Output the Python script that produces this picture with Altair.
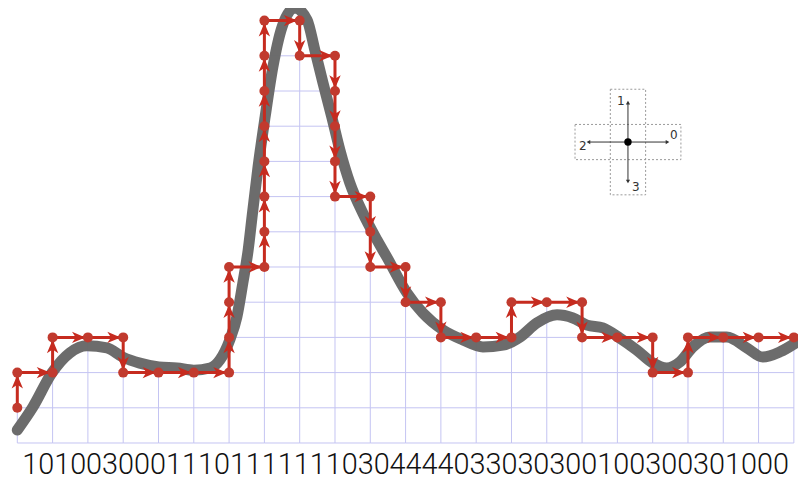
import altair as alt
import pandas as pd

# ---- data ----
path_x = [0, 0, 1, 1, 2, 3, 3, 4, 5, 6, 6, 6, 6, 7, 7, 7, 7, 7, 7, 7, 7, 8, 8, 9, 9, 9, 9, 9,
          10, 10, 10, 11, 11, 12, 12, 13, 14, 14, 15, 16, 16, 17, 18, 18, 19, 19, 20, 21, 22]
path_y = [1, 2, 2, 3, 3, 3, 2, 2, 2, 2, 3, 4, 5, 5, 6, 7, 8, 9, 10, 11, 12, 12, 11, 11, 10, 9, 8, 7,
          7, 6, 5, 5, 4, 4, 3, 3, 3, 4, 4, 4, 3, 3, 3, 2, 2, 3, 3, 3, 3]

curve_x = [0.0, 0.44, 0.98, 1.49, 1.97, 2.54, 2.99, 3.47, 4.01, 4.52, 5.00, 5.46, 5.74, 6.02,
           6.22, 6.39, 6.54, 6.65, 6.82, 7.02, 7.24, 7.50, 7.86, 8.21, 8.43, 8.66, 8.91, 9.14,
           9.42, 9.79, 10.19, 10.47, 11.04, 11.49, 12.06, 12.62, 13.19, 13.76, 14.24, 14.72,
           15.29, 15.74, 16.14, 16.59, 17.07, 17.55, 18.01, 18.40, 18.77, 19.14, 19.62, 20.10,
           20.67, 21.12, 21.61, 22.09]
curve_y = [0.37, 1.02, 1.99, 2.56, 2.76, 2.70, 2.44, 2.27, 2.16, 2.13, 2.07, 2.13, 2.36, 2.93,
           3.58, 4.55, 5.48, 6.42, 7.84, 9.26, 10.68, 11.82, 12.36, 12.02, 11.16, 10.23, 9.26,
           8.32, 7.39, 6.53, 5.77, 5.28, 4.26, 3.69, 3.21, 2.93, 2.73, 2.78, 3.01, 3.41, 3.64,
           3.55, 3.35, 3.27, 2.98, 2.64, 2.27, 2.13, 2.30, 2.73, 3.01, 3.01, 2.70, 2.44, 2.59,
           2.87]

code_text = "101003000111011111110304444033030300100300301000"

dir_labels = ["0", "1", "2", "3"]
dir_dx = [1, 0, -1, 0]
dir_dy = [0, 1, 0, -1]

# ---- scales ----
X_DOMAIN = [-0.2635, 22.117]
Y_DOMAIN = [-1.108, 12.358]
xs = alt.Scale(domain=X_DOMAIN, nice=False, zero=False)
ys = alt.Scale(domain=Y_DOMAIN, nice=False, zero=False)

RED = "#c62b1f"
DOT = "#c13a2e"
GRID = "#c4c4f2"

# column heights under the step path
ncol = max(path_x)
h = [0] * ncol
for i in range(len(path_x) - 1):
    if path_y[i] == path_y[i + 1] and path_x[i + 1] == path_x[i] + 1:
        h[path_x[i]] = path_y[i]

grid_rows = []
for i in range(ncol + 1):
    top = max(h[i - 1] if i > 0 else 0, h[i] if i < ncol else 0)
    grid_rows.append({"x": i, "x2": i, "y": 0, "y2": top})
for i in range(ncol):
    for k in range(h[i] + 1):
        grid_rows.append({"x": i, "x2": i + 1, "y": k, "y2": k})
grid_df = pd.DataFrame(grid_rows)

path_df = pd.DataFrame({"x": path_x, "y": path_y, "i": list(range(len(path_x)))})
curve_df = pd.DataFrame({"x": curve_x, "y": curve_y, "i": list(range(len(curve_x)))})

arrow_rows = []
for i in range(len(path_x) - 1):
    x0, y0, x1, y1 = path_x[i], path_y[i], path_x[i + 1], path_y[i + 1]
    dx, dy = x1 - x0, y1 - y0
    ang = 0 if dx > 0 else 180 if dx < 0 else 270 if dy > 0 else 90
    f = 0.74
    arrow_rows.append({"x": x0 + f * dx, "y": y0 + f * dy, "a": ang})
arrow_df = pd.DataFrame(arrow_rows)

ARROW = "M1,0 L-1,-0.85 L-0.45,0 L-1,0.85 Z"

enc_x = lambda f="x": alt.X(f"{f}:Q", scale=xs, axis=None)
enc_y = lambda f="y": alt.Y(f"{f}:Q", scale=ys, axis=None)

grid = alt.Chart(grid_df).mark_rule(color=GRID, strokeWidth=1).encode(
    x=enc_x(), x2="x2:Q", y=enc_y(), y2="y2:Q")

curve = alt.Chart(curve_df).mark_line(
    interpolate="monotone", color="#676767", strokeWidth=11, strokeCap="round", opacity=0.97
).encode(x=enc_x(), y=enc_y(), order="i:Q")

path = alt.Chart(path_df).mark_line(color=RED, strokeWidth=3).encode(
    x=enc_x(), y=enc_y(), order="i:Q")

dots = alt.Chart(path_df).mark_point(
    shape="circle", filled=True, size=100, color=DOT, opacity=1).encode(x=enc_x(), y=enc_y())

arrows = alt.Chart(arrow_df).mark_point(
    shape=ARROW, filled=True, size=180, color=RED, opacity=1).encode(
    x=enc_x(), y=enc_y(), angle=alt.Angle("a:Q", scale=None))

# ---- inset direction diagram (data units) ----
cx, cy = 17.3, 8.55
rect_df = pd.DataFrame({
    "x": [cx - 1.5, cx - 0.5], "x2": [cx + 1.5, cx + 0.5],
    "y": [cy - 0.5, cy - 1.5], "y2": [cy + 0.5, cy + 1.5]})
rects = alt.Chart(rect_df).mark_rect(
    fillOpacity=0, stroke="#9a9a9a", strokeWidth=1, strokeDash=[2, 2]).encode(
    x=enc_x(), x2="x2:Q", y=enc_y(), y2="y2:Q")

L = 1.12
ins_df = pd.DataFrame({
    "x": [cx] * 4, "y": [cy] * 4,
    "x2": [cx + L * d for d in dir_dx], "y2": [cy + L * d for d in dir_dy],
    "a": [0, 270, 180, 90], "lab": dir_labels,
    "lx": [cx + 1.3, cx - 0.2, cx - 1.28, cx + 0.22],
    "ly": [cy + 0.2, cy + 1.17, cy - 0.12, cy - 1.28]})
ins_lines = alt.Chart(ins_df).mark_rule(color="#333333", strokeWidth=1).encode(
    x=enc_x(), x2="x2:Q", y=enc_y(), y2="y2:Q")
ins_heads = alt.Chart(ins_df).mark_point(
    shape="triangle-right", filled=True, size=18, color="#333333", opacity=1).encode(
    x=enc_x("x2"), y=enc_y("y2"), angle=alt.Angle("a:Q", scale=None))
ins_labels = alt.Chart(ins_df).mark_text(
    font="DejaVu Sans", fontSize=12, color="#333333").encode(
    x=enc_x("lx"), y=enc_y("ly"), text="lab:N")
ins_dot = alt.Chart(pd.DataFrame({"x": [cx], "y": [cy]})).mark_point(
    shape="circle", filled=True, size=55, color="#000000", opacity=1).encode(
    x=enc_x(), y=enc_y())

code = alt.Chart(pd.DataFrame({"x": [11.0], "y": [-0.88], "t": [code_text]})).mark_text(
    font="Roboto", fontWeight=300, fontSize=28.8, color="#111111",
    align="center", baseline="alphabetic").encode(x=enc_x(), y=enc_y(), text="t:N")

chart = alt.layer(
    grid, curve, path, arrows, dots, rects, ins_lines, ins_heads, ins_dot, ins_labels, code
).properties(
    width=790, height=474, padding=0,
    autosize=alt.AutoSizeParams(type="none")
).configure_view(stroke=None)

chart.save("out.html", embed_options={"renderer": "svg", "actions": False})
